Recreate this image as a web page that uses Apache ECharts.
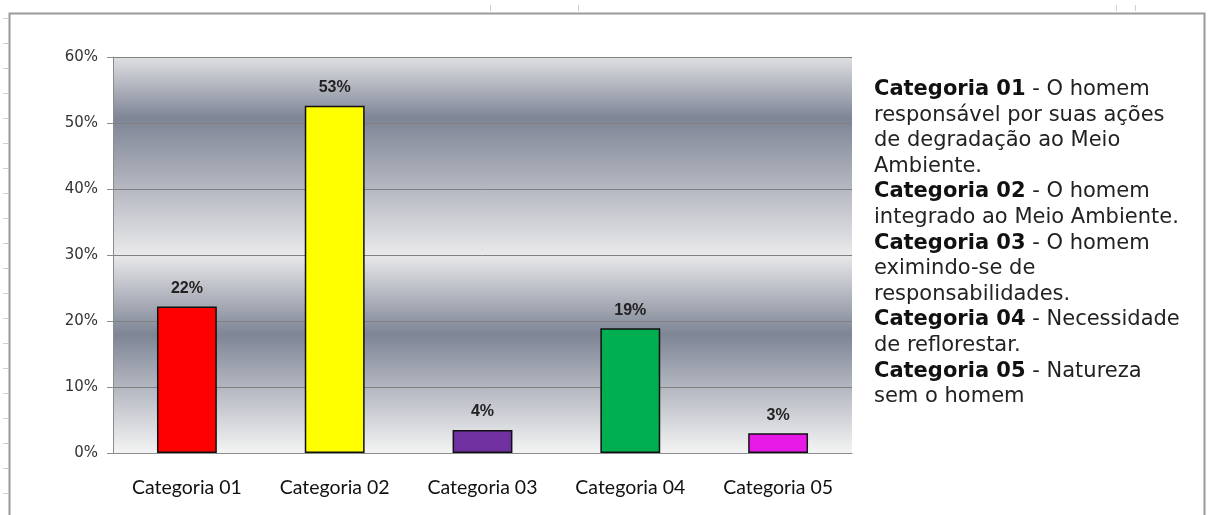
<!DOCTYPE html>
<html>
<head>
<meta charset="utf-8">
<script src="https://cdn.jsdelivr.net/npm/echarts@6/dist/echarts.min.js"></script>
<style>
  html, body { margin: 0; padding: 0; background: #fff; }
  #chart { width: 1208px; height: 515px; }
</style>
</head>
<body>
<div id="chart"></div>
<script>
// dados do gráfico
const categorias = ['Categoria 01', 'Categoria 02', 'Categoria 03', 'Categoria 04', 'Categoria 05'];
const valores = [22.2, 52.6, 3.5, 18.9, 3.0];
const cores = ['#ff0000', '#ffff00', '#7030a0', '#00b050', '#e619e6'];
const yTicks = [0, 10, 20, 30, 40, 50, 60];
const legenda = [
  ['Categoria 01', ' - O homem', 'responsável por suas ações', 'de degradação ao Meio', 'Ambiente.'],
  ['Categoria 02', ' - O homem', 'integrado ao Meio Ambiente.'],
  ['Categoria 03', ' - O homem', 'eximindo-se de', 'responsabilidades.'],
  ['Categoria 04', ' - Necessidade', 'de reflorestar.'],
  ['Categoria 05', ' - Natureza', 'sem o homem']
];

// texto da legenda à direita
let linhas = [];
legenda.forEach(item => {
  linhas.push('{b|' + item[0] + '}{n|' + item[1] + '}');
  item.slice(2).forEach(l => linhas.push('{n|' + l + '}'));
});

// marquinhas da planilha atrás do gráfico
const marcas = [];
for (let y = 18; y < 500; y += 25) {
  marcas.push({ type: 'line', shape: { x1: 3, y1: y + 0.5, x2: 8, y2: y + 0.5 }, style: { stroke: '#c8d0e0', lineWidth: 1 }, silent: true });
}
[490, 578, 1116, 1135].forEach(x => {
  marcas.push({ type: 'line', shape: { x1: x + 0.5, y1: 5, x2: x + 0.5, y2: 11 }, style: { stroke: '#c8d0e0', lineWidth: 1 }, silent: true });
});

const fundo = new echarts.graphic.LinearGradient(0, 0, 0, 1, [
  { offset: 0, color: '#dfe0e3' },
  { offset: 0.155, color: '#7e8595' },
  { offset: 0.5, color: '#e9e9eb' },
  { offset: 0.7, color: '#7e8595' },
  { offset: 1, color: '#f4f4f4' }
]);

const chart = echarts.init(document.getElementById('chart'));
chart.setOption({
  animation: false,
  backgroundColor: '#fff',
  grid: {
    left: 113, right: 356, top: 57, bottom: 62,
    show: true, backgroundColor: fundo, borderWidth: 0
  },
  xAxis: {
    type: 'category',
    data: categorias,
    axisLine: { lineStyle: { color: '#8c8c8c', width: 1 } },
    axisTick: { length: 7, lineStyle: { color: '#8c8c8c' } },
    axisLabel: { margin: 25, fontFamily: 'Lato', fontSize: 19.5, color: '#111' }
  },
  yAxis: {
    type: 'value',
    min: 0, max: 60, interval: 10,
    axisLine: { show: true, lineStyle: { color: '#8c8c8c' } },
    axisTick: { show: true, length: 6, lineStyle: { color: '#8c8c8c' } },
    axisLabel: {
      margin: 15, fontFamily: 'DejaVu Sans', fontSize: 15, color: '#333',
      formatter: v => yTicks.includes(v) ? v + '%' : ''
    },
    splitLine: { lineStyle: { color: '#808080', width: 1 } }
  },
  series: [{
    type: 'bar',
    data: valores.map((v, i) => ({ value: v, itemStyle: { color: cores[i] } })),
    barWidth: '40.5%',
    itemStyle: { borderColor: '#111', borderWidth: 1.5 },
    label: {
      show: true, position: 'top', distance: 10,
      fontFamily: 'Liberation Sans', fontWeight: 'bold', fontSize: 16, color: '#222',
      formatter: p => Math.round(p.value) + '%'
    }
  }],
  graphic: marcas.concat([
    {
      type: 'rect', silent: true, z: -1,
      shape: { x: 9.5, y: 13.5, width: 1195, height: 520 },
      style: { fill: 'none', stroke: '#9a9a9a', lineWidth: 2 }
    },
    {
      type: 'text', left: 874, top: 79, silent: true,
      style: {
        text: linhas.join('\n'),
        rich: {
          b: { fontFamily: 'DejaVu Sans', fontWeight: 'bold', fontSize: 21, lineHeight: 25.6, fill: '#111' },
          n: { fontFamily: 'DejaVu Sans', fontSize: 21, lineHeight: 25.6, fill: '#222' }
        }
      }
    }
  ])
});
</script>
</body>
</html>
